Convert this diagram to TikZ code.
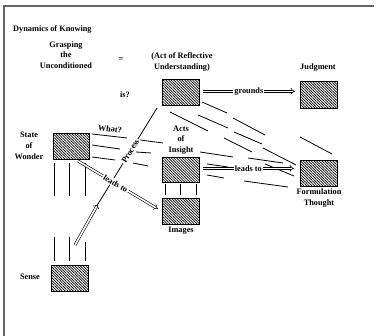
\documentclass[tikz,border=0pt]{standalone}
\usepackage{fontspec}
\setmainfont{Liberation Serif}
\usetikzlibrary{patterns.meta,arrows.meta}
\begin{document}
\begin{tikzpicture}[x=1pt,y=-1pt,
  hatchbox/.style={draw=black, line width=0.8pt, pattern={Lines[angle=-45,distance=1.9pt,line width=0.7pt]}, minimum width=37pt, minimum height=26pt, inner sep=0pt, anchor=north west},
  lbl/.style={font=\fontsize{8.3}{10.8}\selectfont\bfseries, align=center, inner sep=1pt},
  dbl/.style={double, double distance=1.6pt, line width=0.6pt, -{Implies}},
  seg/.style={line width=0.8pt},
  frame/.style={draw=black!60, line width=1.3pt}]
\useasboundingbox[fill=white] (0,0) rectangle (384,336);
\draw[frame] (4,336) -- (4,6) -- (374,6);

% boxes
\node[hatchbox] (refl) at (162,79) {};
\node[hatchbox, minimum height=27pt] (judg) at (300,81) {};
\node[hatchbox, minimum width=36pt] (sow) at (53,133) {};
\node[hatchbox, minimum height=25pt] (ins) at (162,157) {};
\node[hatchbox] (img) at (162,198) {};
\node[hatchbox] (form) at (300,160) {};
\node[hatchbox] (sense) at (51,265) {};

% labels
\node[lbl, anchor=west] (title) at (12,29) {Dynamics of Knowing};
\node[lbl] (grasp) at (66,55) {Grasping\\the\\Unconditioned};
\node[lbl] (eq) at (121,60) {=};
\node[lbl] (act) at (182,62) {(Act of Reflective\\Understanding)};
\node[lbl] (jl) at (318,68) {Judgment};
\node[lbl] (is) at (125,95) {is?};
\node[lbl] (sowl) at (29,146) {State\\of\\Wonder};
\node[lbl, rotate=-8] (what) at (110,129) {What?};
\node[lbl] (insl) at (181,140) {Acts\\of\\Insight};
\node[lbl] (imgl) at (181,231) {Images};
\node[lbl] (forml) at (319,198) {Formulation\\Thought};
\node[lbl] (sensel) at (30,277) {Sense};

% vertical lines
\foreach \x in {54,69,85} {\draw[seg] (\x,163) -- (\x,196);}
\draw[seg] (54,237) -- (54,261);
\draw[seg] (69,237) -- (69,261);
\draw[seg] (85,242) -- (85,261);
\foreach \x in {165,180,196} {\draw[seg] (\x,184) -- (\x,195);}

% dashed fan lines
\draw[seg] (92,134) -- (127,138);
\draw[seg] (140,140) -- (163,143);
\draw[seg] (92,145) -- (120,149);
\draw[seg] (136,152) -- (151,153);
\draw[seg] (92,157) -- (115,160);
\draw[seg] (133,163) -- (148,166);
\draw[seg] (202,102) -- (227,113);
\draw[seg] (198,115) -- (228,128);
\draw[seg] (170,112) -- (208,131);
\draw[seg] (233,118) -- (265,135);
\draw[seg] (234,132) -- (262,144);
\draw[seg] (224,138) -- (252,152);
\draw[seg] (263,148) -- (296,165);
\draw[seg] (248,158) -- (283,163);
\draw[seg] (265,164) -- (294,176);
\draw[seg] (200,152) -- (233,157);
\draw[seg] (207,164) -- (228,167);
\draw[seg] (207,175) -- (224,178);
\draw[seg] (244,181) -- (288,187);
\draw[seg] (300,137) -- (332,154);

% process line and arrows
\coordinate (p0) at (75,245);
\coordinate (p1) at (98,204);
\coordinate (p2) at (157,108);
\draw[seg] (p1) -- node[pos=0.55, rotate=58.5, lbl, fill=white] {Process} (p2);
\draw[dbl] (p0) -- (p1);
\coordinate (s0) at (78,161);
\coordinate (s1) at (158,209);
\draw[dbl] (s0) -- node[pos=0.47, rotate=-31, lbl, fill=white] {leads to} (s1);
\draw[dbl] ([xshift=3pt,yshift=1pt]refl.east) -- node[lbl, fill=white] {grounds} ([xshift=-5pt,yshift=1pt]refl.east -| judg.west);
\draw[dbl] ([xshift=3pt,yshift=1.5pt]ins.east) -- node[lbl, fill=white] {leads to} ([xshift=-6pt,yshift=1.5pt]ins.east -| form.west);
\end{tikzpicture}
\end{document}
